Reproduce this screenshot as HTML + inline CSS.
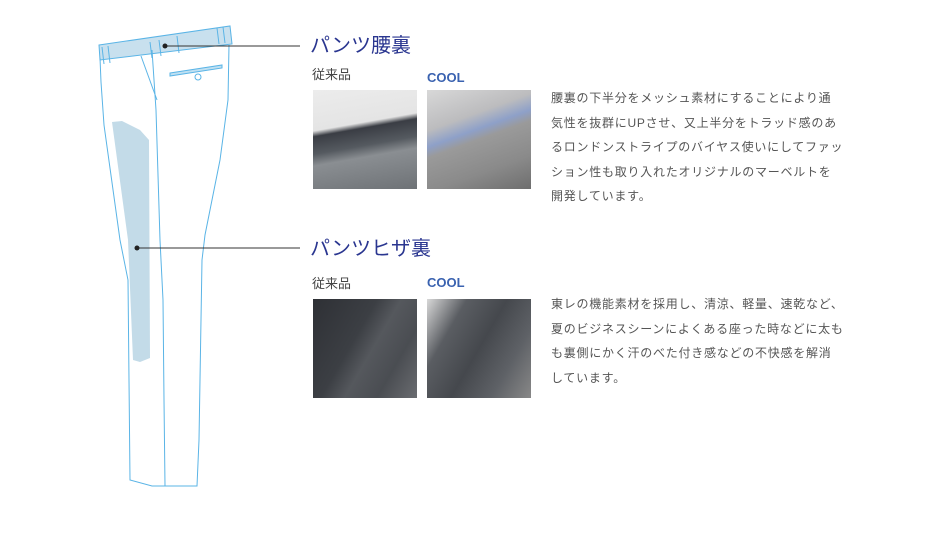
<!DOCTYPE html>
<html><head><meta charset="utf-8"><style>
body{margin:0;width:940px;height:538px;background:#fff;position:relative;overflow:hidden;font-family:"Liberation Sans","Noto Sans CJK JP",sans-serif}
.a{position:absolute}
.t{font-size:20px;color:#2a3690;white-space:nowrap;line-height:1}
.l{font-size:13px;color:#444;line-height:1}
.c{font-size:13px;color:#3a62b0;font-weight:bold;line-height:1}
.p{font-size:12px;color:#555;line-height:24.5px;letter-spacing:0.75px;white-space:nowrap}
.ph{position:absolute;width:104px;height:99px}
</style></head><body>
<svg class="a" style="left:0;top:0" width="940" height="538">
<g fill="none" stroke="#5ab4e6" stroke-width="1">
<polygon points="112,122 122,121 140,130 149,140 150,358 140,362 133,360 128,240" fill="#c3dbe8" stroke="none"/>
<path d="M99,45 L230,26 L232,44 L100,60 Z" fill="#c8e0ee" stroke="#5ab4e6"/>
<path d="M100,58 L101,82 L104,125 L120,240 L128,280 L130,480 L152,486 L197,486 L199,440 L202,260 L205,235 L220,160 L228,100 L229,45"/>
<path d="M152,50 L156,110 L160,240 L163,300 L164,400 L165,486"/>
<path d="M141,56 L157,100"/>
<path d="M102,47 L104,64 M108,46 L110,63 M150,42 L152,58 M159,40 L161,56 M177,36 L179,53 M217,28 L219,44 M223,27 L225,43"/>
<path d="M170,73 L222,65 L222,68 L170,76 Z" stroke="#5ab4e6" fill="#bfe0f2"/>
<circle cx="198" cy="77" r="3"/>
</g>
<g stroke="#333" stroke-width="1"><line x1="165" y1="46" x2="300" y2="46"/><line x1="137" y1="248" x2="300" y2="248"/></g>
<circle cx="165" cy="46" r="2.5" fill="#222"/><circle cx="137" cy="248" r="2.5" fill="#222"/>
</svg>
<div class="a t" style="left:310px;top:36px">パンツ腰裏</div>
<div class="a l" style="left:312px;top:68px">従来品</div>
<div class="a c" style="left:427px;top:71px">COOL</div>
<div class="ph" style="left:313px;top:90px;background:linear-gradient(170deg,#ececec 0%,#e4e4e4 35%,#3a3d44 40%,#555a60 55%,#8a8e92 65%,#6e7276 100%)"></div>
<div class="ph" style="left:427px;top:90px;background:linear-gradient(160deg,#d8d8d8 0%,#bcbcbe 30%,#8ea0c8 42%,#9a9a9a 50%,#8a8a8a 75%,#6e6e6e 100%)"></div>
<div class="a p" style="left:551px;top:86px">腰裏の下半分をメッシュ素材にすることにより通<br>気性を抜群にUPさせ、又上半分をトラッド感のあ<br>るロンドンストライプのバイヤス使いにしてファッ<br>ション性も取り入れたオリジナルのマーベルトを<br>開発しています。</div>
<div class="a t" style="left:310px;top:239px">パンツヒザ裏</div>
<div class="a l" style="left:312px;top:277px">従来品</div>
<div class="a c" style="left:427px;top:276px">COOL</div>
<div class="ph" style="left:313px;top:299px;background:linear-gradient(120deg,#2e3035 0%,#3c3f44 40%,#55585d 55%,#4a4d52 75%,#6a6c70 100%)"></div>
<div class="ph" style="left:427px;top:299px;background:linear-gradient(120deg,#d8d8d8 0%,#5a5d62 25%,#45484d 50%,#5e6166 75%,#888 100%)"></div>
<div class="a p" style="left:551px;top:292px">東レの機能素材を採用し、清涼、軽量、速乾など、<br>夏のビジネスシーンによくある座った時などに太も<br>も裏側にかく汗のべた付き感などの不快感を解消<br>しています。</div>
</body></html>
